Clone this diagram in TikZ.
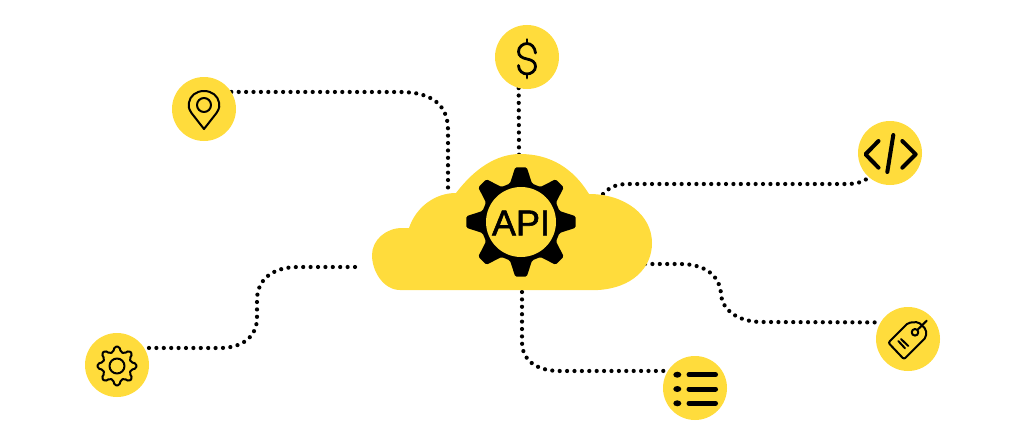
\documentclass[tikz,border=0pt]{standalone}
\usepackage{fontspec}
\setmainfont{Liberation Sans}
\newfontfamily\apifont[FakeBold=1.6]{Liberation Sans}
\usetikzlibrary{backgrounds}
\definecolor{apiyellow}{HTML}{FFDC3C}
\tikzset{
  hub/.style={circle,fill=apiyellow,minimum size=64pt,inner sep=0pt},
  dotline/.style={line width=4.2pt,line cap=round,dash pattern=on 0pt off 7.4pt},
  icon/.style={line width=2pt,line cap=round,line join=round,black},
}
\begin{document}
\begin{tikzpicture}[x=1pt,y=-1pt]
\useasboundingbox (0,0) rectangle (1024,444);
% cloud
\fill[apiyellow] (400,290) .. controls (384,290) and (372,272) .. (372,255)
  .. controls (372,240) and (386,228) .. (402,228) -- (409,228)
  .. controls (416,207) and (435,193) .. (456,193)
  .. controls (475,168) and (497,154) .. (520,154)
  .. controls (550,154) and (573,168) .. (589,194)
  .. controls (625,194) and (652,215) .. (652,243)
  .. controls (652,268) and (632,288) .. (598,290) -- cycle;
\coordinate (cloudA) at (448,190);
\coordinate (cloudB) at (519,155);
\coordinate (cloudC) at (603,194);
\coordinate (cloudD) at (645,264);
\coordinate (cloudE) at (522,292);
\coordinate (freeF) at (355,267);
% hubs
\node[hub] (pin) at (204,109) {};
\node[hub] (dollar) at (527,57) {};
\node[hub] (code) at (890,153) {};
\node[hub] (tag) at (908,339) {};
\node[hub] (list) at (695,388) {};
\node[hub] (gear) at (117,365) {};
% connectors
\begin{pgfonlayer}{background}
\draw[dotline] (pin.32) -- (400,92) .. controls (432,92) and (448,105) .. (448,130) -- (cloudA);
\draw[dotline] (dollar.255) -- (cloudB);
\draw[dotline] (cloudC) .. controls (608,189) and (614,184) .. (628,184) -- (845,184) .. controls (855,184) and (862,183) .. (code.229);
\draw[dotline] (cloudD) -- (680,264) .. controls (708,264) and (720,278) .. (721,294) .. controls (722,310) and (738,322) .. (762,322) -- (tag.149);
\draw[dotline] (cloudE) -- (522,342) .. controls (522,360) and (536,371) .. (560,371) -- (list.148);
\draw[dotline] (freeF) -- (298,267) .. controls (272,267) and (257,280) .. (257,300) -- (257,318) .. controls (257,336) and (243,348) .. (220,348) -- (gear.32);
\end{pgfonlayer}
% big gear
\begin{scope}[shift={(521,222)}]
\fill[black,rounded corners=1.5pt] (6:55)
  \foreach \a in {45,90,...,360} { -- (\a-45+6:55) -- (\a-45+16:40) -- (\a-16:40) -- (\a-6:55) } -- cycle;
\node[circle,fill=apiyellow,minimum size=70pt,inner sep=0pt] (hole) at (0,0) {};
\end{scope}
\node[font=\apifont\fontsize{36}{36}\selectfont,inner sep=0pt] (api) at (521,223) {API};
% pin icon
\draw[icon] (204,129) -- (191.5,113) .. controls (188,108) and (188.5,105) .. (189,102.5)
  .. controls (190,96) and (196,91) .. (204,91)
  .. controls (212,91) and (218,96) .. (219,102.5)
  .. controls (219.5,105) and (220,108) .. (216.5,113) -- cycle;
\draw[icon] (204,105) circle[radius=7];
% dollar icon
\draw[line width=2.8pt,line cap=round,black] (535.5,53) .. controls (535,47) and (531,43.5) .. (527,43.5)
  .. controls (523,43.5) and (518.5,47) .. (518.5,51.5)
  .. controls (518.5,56) and (522,58) .. (527,59)
  .. controls (532,60) and (535.5,62) .. (535.5,66.5)
  .. controls (535.5,71) and (531,74) .. (527,74)
  .. controls (523,74) and (518.5,71) .. (518.5,65.5);
\draw[line width=2.8pt,line cap=round,black] (527,39.5) -- (527,43.5) (527,74) -- (527,78);
% code icon
\draw[line width=4pt,line cap=round,line join=round,black] (878.5,141) -- (865.5,154.3) -- (878.5,167.7);
\draw[line width=4pt,line cap=round,line join=round,black] (902.3,141) -- (915.7,154.3) -- (902.3,167.7);
\draw[line width=4pt,line cap=round,black] (893.3,135) -- (887.3,172);
% tag icon
\draw[icon,rounded corners=2pt] (888.3,342.7) -- (908.3,322.7) -- (918.3,322) -- (926,329.3) -- (926,337.3) -- (904,359.3) -- cycle;
\draw[icon] (915,332.3) circle[radius=3.3];
\draw[icon] (917.5,329.8) -- (926.7,320.7);
\draw[icon] (898.3,341) -- (905,348.3);
\draw[icon] (901,339) -- (908.3,346);
% list icon
\foreach \y in {374.7,389,403.3} {
  \fill[black] (677.3,\y) ellipse[x radius=4,y radius=3];
  \draw[line width=5pt,line cap=round,black] (689,\y) -- (715.5,\y);
}
% small gear icon
\begin{scope}[shift={(117,366)}]
\draw[icon,rounded corners=1.6pt] (7:19.5)
  \foreach \a in {45,90,...,360} { -- (\a-45+7:19.5) -- (\a-45+15:14.5) -- (\a-15:14.5) -- (\a-7:19.5) } -- cycle;
\draw[icon] (0,0) circle[radius=7.5];
\end{scope}
\end{tikzpicture}
\end{document}
